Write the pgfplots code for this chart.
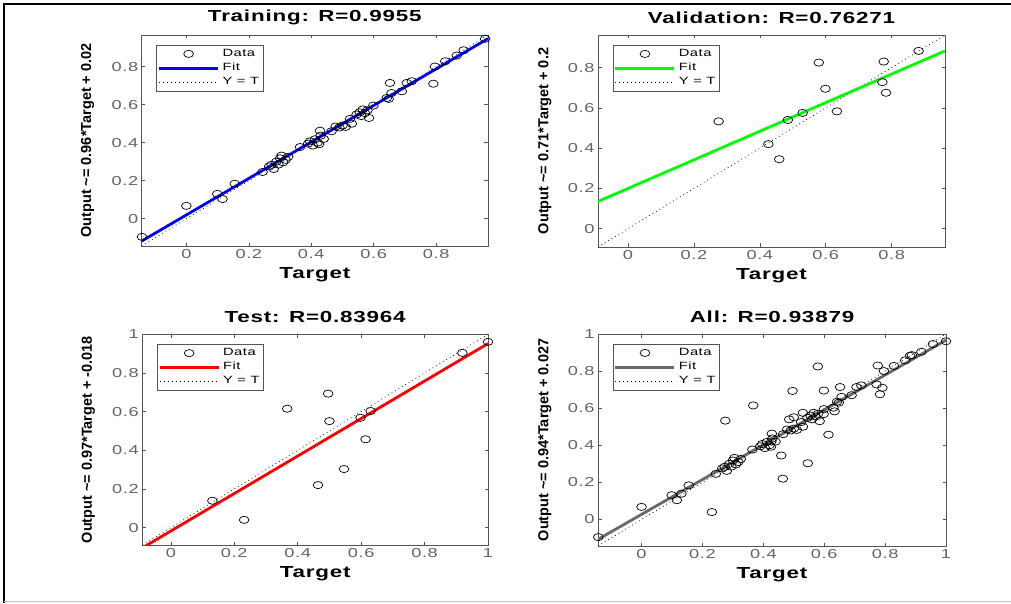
\documentclass[border=0pt]{standalone}
\usepackage{fontspec}
\setmainfont[FakeStretch=1.4,LetterSpace=5]{Liberation Sans}
\newfontfamily\ylabfont{Liberation Sans}
\usepackage{pgfplots}
\usepackage{pgfplotstable}
\pgfplotsset{compat=1.18}

\definecolor{axcol}{RGB}{85,85,85}
\definecolor{tickcol}{RGB}{100,100,100}
\definecolor{fitgray}{RGB}{105,105,105}

% target / output of each subset
\pgfplotstableread{
x y
-0.142 -0.095
0.000 0.068
0.099 0.131
0.116 0.104
0.155 0.184
0.244 0.246
0.265 0.275
0.273 0.284
0.280 0.262
0.288 0.300
0.295 0.285
0.300 0.318
0.305 0.332
0.310 0.297
0.318 0.310
0.326 0.326
0.364 0.377
0.390 0.395
0.396 0.407
0.405 0.385
0.412 0.418
0.420 0.400
0.425 0.392
0.428 0.463
0.430 0.437
0.440 0.420
0.465 0.460
0.478 0.485
0.490 0.480
0.500 0.490
0.510 0.483
0.524 0.525
0.530 0.500
0.545 0.548
0.555 0.560
0.560 0.540
0.565 0.575
0.572 0.555
0.580 0.570
0.585 0.530
0.599 0.595
0.642 0.635
0.648 0.630
0.652 0.714
0.657 0.661
0.690 0.670
0.706 0.714
0.722 0.723
0.791 0.710
0.796 0.800
0.829 0.828
0.866 0.858
0.888 0.886
0.957 0.946
}\trainData

\pgfplotstableread{
x y
0.275 0.533
0.426 0.420
0.459 0.345
0.485 0.540
0.530 0.575
0.579 0.825
0.599 0.695
0.634 0.583
0.776 0.830
0.772 0.728
0.783 0.675
0.882 0.883
}\valData

\pgfplotstableread{
x y
0.131 0.139
0.231 0.040
0.367 0.615
0.464 0.220
0.496 0.693
0.500 0.551
0.546 0.303
0.598 0.568
0.614 0.457
0.630 0.603
0.919 0.904
1.000 0.961
}\testData

\pgfplotsset{
  regpanel/.style={
    scale only axis,
    anchor=north west,
    axis line style={axcol, line width=0.8pt},
    every tick/.style={axcol, line width=0.6pt},
    tick align=inside,
    major tick length=3.5pt,
    xtick pos=both, ytick pos=both,
    xtick={0,0.2,0.4,0.6,0.8,1},
    ytick={0,0.2,0.4,0.6,0.8,1},
    /pgf/number format/assume math mode=true,
    ticklabel style={font=\fontsize{13}{13}\selectfont, text=tickcol},
    title style={at={(axis description cs:0.5,1)}, anchor=center, yshift=11.5pt,
      font=\bfseries\fontsize{16}{16}\selectfont},
    xlabel={Target},
    xlabel style={at={(axis description cs:0.5,0)}, anchor=center, yshift=-29pt,
      font=\bfseries\fontsize{16}{16}\selectfont},
    every axis y label/.style={at={(axis description cs:-0.156,0.5)}, rotate=90, anchor=center,
      font=\ylabfont\bfseries\fontsize{14.5}{14.5}\selectfont},
    legend image code/.code={\draw[##1] (0pt,0pt) -- (59pt,0pt);},
    legend style={at={(axis description cs:0.0425,0.953)}, anchor=north west,
      draw=axcol, line width=0.6pt, fill=white,
      inner xsep=1pt, inner ysep=1.5pt, row sep=0pt,
      font=\fontsize{10.5}{11}\selectfont,
      nodes={inner xsep=3pt, inner ysep=0pt, text height=9.3pt, text depth=5pt}},
    legend cell align=left,
  },
  datalegend/.style={legend image code/.code={%
    \draw[black, line width=0.7pt] (29.5pt,0pt) ellipse [x radius=4.9pt, y radius=3.6pt];}},
  datamark/.style={only marks, mark=o, mark size=3.6pt,
    mark options={xscale=1.35, black, line width=0.7pt}},
  idline/.style={black, line width=0.7pt, dash pattern=on 0.8pt off 3.2pt},
  fitline/.style={#1, line width=2.8pt},
}

\begin{document}
\begin{tikzpicture}
\path[use as bounding box] (0,0) rectangle (1011pt,603pt);
\draw[black, line width=2.5pt] (2.8pt,599pt) -- (1011pt,599pt);
\draw[black, line width=2.5pt] (4pt,600pt) -- (4pt,0pt);
\draw[black!25, line width=1pt] (4pt,1.5pt) -- (1011pt,1.5pt);

% Training
\begin{axis}[regpanel, at={(141.7pt,568pt)}, width=346.3pt, height=211pt,
  xmin=-0.143, xmax=0.966, ymin=-0.143, ymax=0.966,
  title={Training: R=0.9955},
  ylabel={Output \textasciitilde= 0.96*Target + 0.02}]
\addlegendimage{datalegend}
\addlegendimage{fitline=blue}
\addlegendimage{idline}
\addplot[idline, forget plot] coordinates {(-0.143,-0.143) (0.966,0.966)};
\addplot[fitline=blue, forget plot] coordinates {(-0.143,-0.117) (0.966,0.947)};
\addplot[datamark, forget plot] table[x=x, y=y] {\trainData};
\legend{Data, Fit, Y = T}
\end{axis}

% Validation
\begin{axis}[regpanel, at={(598pt,568pt)}, width=347pt, height=212pt,
  xmin=-0.091, xmax=0.962, ymin=-0.091, ymax=0.962,
  title={Validation: R=0.76271},
  every axis y label/.append style={at={(axis description cs:-0.153,0.5)}},
  ylabel={Output \textasciitilde= 0.71*Target + 0.2}]
\addlegendimage{datalegend}
\addlegendimage{fitline=green}
\addlegendimage{idline}
\addplot[idline, forget plot] coordinates {(-0.091,-0.091) (0.962,0.962)};
\addplot[fitline=green, forget plot] coordinates {(-0.091,0.135) (0.962,0.883)};
\addplot[datamark, forget plot] table[x=x, y=y] {\valData};
\legend{Data, Fit, Y = T}
\end{axis}

% Test
\begin{axis}[regpanel, at={(142.3pt,268.7pt)}, width=345.7pt, height=210.7pt,
  xmin=-0.09, xmax=1, ymin=-0.09, ymax=1,
  title={Test: R=0.83964},
  ylabel={Output \textasciitilde= 0.97*Target + -0.018}]
\addlegendimage{datalegend}
\addlegendimage{fitline=red}
\addlegendimage{idline}
\addplot[idline, forget plot] coordinates {(-0.09,-0.09) (1,1)};
\addplot[fitline=red, forget plot] coordinates {(-0.09,-0.105) (1,0.952)};
\addplot[datamark, forget plot] table[x=x, y=y] {\testData};
\legend{Data, Fit, Y = T}
\end{axis}

% All
\begin{axis}[regpanel, at={(598pt,269pt)}, width=348pt, height=212pt,
  xmin=-0.143, xmax=1, ymin=-0.143, ymax=1,
  title={All: R=0.93879},
  every axis y label/.append style={at={(axis description cs:-0.153,0.5)}},
  ylabel={Output \textasciitilde= 0.94*Target + 0.027}]
\addlegendimage{datalegend}
\addlegendimage{fitline=fitgray}
\addlegendimage{idline}
\addplot[idline, forget plot] coordinates {(-0.143,-0.143) (1,1)};
\addplot[fitline=fitgray, forget plot] coordinates {(-0.143,-0.107) (1,0.967)};
\addplot[datamark, forget plot] table[x=x, y=y] {\trainData};
\addplot[datamark, forget plot] table[x=x, y=y] {\valData};
\addplot[datamark, forget plot] table[x=x, y=y] {\testData};
\legend{Data, Fit, Y = T}
\end{axis}
\end{tikzpicture}
\end{document}
